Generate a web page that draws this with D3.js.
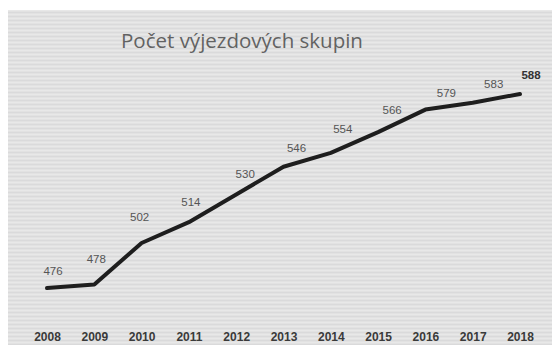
<!DOCTYPE html>
<html>
<head>
<meta charset="utf-8">
<script src="https://cdn.jsdelivr.net/npm/d3@7"></script>
<style>
html,body{margin:0;padding:0;background:#fff;}
svg{display:block;}
</style>
</head>
<body>
<svg id="chart" width="552" height="345"></svg>
<script>
// ---- data ----
const years = ["2008","2009","2010","2011","2012","2013","2014","2015","2016","2017","2018"];
const values = [476, 478, 502, 514, 530, 546, 554, 566, 579, 583, 588];
const title = "Počet výjezdových skupin";

// ---- layout (label nudges relative to points) ----
const labelDx = [6, 2, -2, 2, 9, 13, 12, 14, 21, 21, 11];
const labelDy = [-17, -26, -26, -20, -20, -19, -24, -22, -17, -19, -19];

const svg = d3.select("#chart");
const W = 552, H = 345;

// panel background with faint scan stripes
const defs = svg.append("defs");
const pat = defs.append("pattern").attr("id","stripes").attr("patternUnits","userSpaceOnUse")
  .attr("width", 8).attr("height", 4);
pat.append("rect").attr("width",8).attr("height",4).attr("fill","#e2e2e2");
pat.append("rect").attr("y",0).attr("width",8).attr("height",1).attr("fill","#dadadb");
pat.append("rect").attr("y",2).attr("width",8).attr("height",1).attr("fill","#e8e8e8");

svg.append("rect").attr("x",8).attr("y",10).attr("width",W-8).attr("height",H-10)
  .attr("fill","url(#stripes)");

// scales
const x = d3.scalePoint().domain(years).range([47, 520]);
const y = d3.scaleLinear().domain([476, 588]).range([288, 94]);

// title
svg.append("text").attr("x", 121).attr("y", 48)
  .attr("font-family","'Open Sans', sans-serif").attr("font-size", 20.5)
  .attr("fill","#626262").text(title);

// line
const data = years.map((yr,i)=>({yr, v: values[i], i}));
svg.append("path").datum(data)
  .attr("fill","none").attr("stroke","#1e1e1e").attr("stroke-width",4)
  .attr("stroke-linejoin","round").attr("stroke-linecap","round")
  .attr("d", d3.line().x(d=>x(d.yr)).y(d=>y(d.v)));

// data labels
svg.append("g").selectAll("text").data(data).join("text")
  .attr("x", d=>x(d.yr)+labelDx[d.i])
  .attr("y", d=>y(d.v)+labelDy[d.i])
  .attr("dy","0.35em")
  .attr("text-anchor","middle")
  .attr("font-family","'Liberation Sans Narrow','Liberation Sans',sans-serif")
  .attr("font-size", 11.5)
  .attr("font-weight", d=>d.i===data.length-1 ? "bold" : "normal")
  .attr("fill", d=>d.i===data.length-1 ? "#333" : "#555")
  .text(d=>d.v);

// x axis (year labels)
const axis = svg.append("g").attr("transform","translate(0,322)")
  .call(d3.axisBottom(x).tickSize(0).tickPadding(10));
axis.select(".domain").remove();
axis.selectAll("text")
  .attr("font-family","'Liberation Sans Narrow','Liberation Sans',sans-serif")
  .attr("font-size", 12).attr("font-weight","bold").attr("fill","#3a3a3a");
</script>
</body>
</html>
